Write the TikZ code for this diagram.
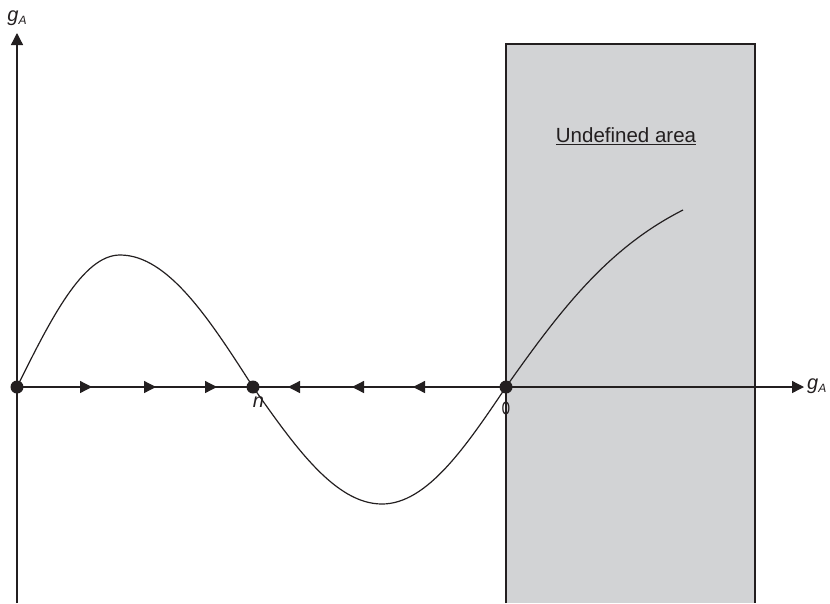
\documentclass[tikz,border=0pt]{standalone}
\usepackage{fontspec}
\setmainfont{Liberation Sans}
\newfontfamily\greekfont{DejaVu Sans}
\usepackage{xcolor}
\usetikzlibrary{arrows.meta,positioning,calc}

\definecolor{undefgray}{RGB}{210,211,213}
\definecolor{inkdark}{RGB}{35,31,32}

\tikzset{
	axisline/.style={line width=1.3pt,draw=inkdark},
	fixpt/.style={circle,fill=inkdark,inner sep=0pt,minimum size=13pt},
	flowtip/.style={-{Triangle[length=12pt,width=12pt]},line width=1.3pt,draw=inkdark},
	axlabel/.style={font=\fontsize{20}{22}\selectfont\itshape,text=inkdark,inner sep=1pt}
}

\newcommand{\gA}{g\raisebox{-0.3ex}{\fontsize{12}{14}\selectfont A}}

\begin{document}
\begin{tikzpicture}[x=1pt,y=-1pt]
	\useasboundingbox (0,0) rectangle (830,603);
	
	% undefined region
	\fill[undefgray] (506,44) rectangle (755,603);
	\draw[line width=1.5pt,draw=inkdark] (506,603) -- (506,44) -- (755,44) -- (755,603);
	\node[font=\fontsize{20.5}{24}\selectfont,text=inkdark] (undef) at (626,136) {\underline{Undefined area}};
	
	% axes
	\coordinate (origin) at (17,387);
	\coordinate (ytop) at (17,33);
	\coordinate (ybot) at (17,603);
	\coordinate (xend) at (804,387);
	\draw[axisline,-{Triangle[length=12pt,width=12pt]}] (ybot) -- (ytop);
	\draw[axisline,-{Triangle[length=12pt,width=12pt]}] (origin) -- (xend);
	\node[axlabel] (ylab) at (17,18) {\gA};
	\node[axlabel,anchor=west] (xlab) at (806,386) {\gA};
	
	% fixed points
	\coordinate (zero) at (17,387);
	\coordinate (n) at (253,387);
	\coordinate (phi) at (506,387);
	\coordinate (hump) at (120,255);
	\coordinate (dip) at (382,504);
	\coordinate (cend) at (683,210);
	
	% curve (quarter sine pieces)
	\draw[line width=1.2pt,draw=inkdark] (zero)
		.. controls (50.6,319.4) and (82.7,255) .. (hump)
		.. controls (168.1,255) and (209.6,319.4) .. (n)
		.. controls (295.1,446.9) and (335.3,504) .. (dip)
		.. controls (426.9,504) and (465.6,446.9) .. (phi)
		.. controls (561,309) and (608,248) .. (cend);
	
	% flow along the axis
	\foreach \x in {92,156,217}{
		\draw[flowtip] (\x-12,387) -- (\x,387);
	}
	\foreach \x in {288,352,413}{
		\draw[flowtip] (\x+12,387) -- (\x,387);
	}
	
	\node[fixpt] (zerodot) at (zero) {};
	\node[fixpt] (ndot) at (n) {};
	\node[fixpt] (phidot) at (phi) {};
	\node[axlabel,below right=4pt and -6pt of ndot] (nlab) {n};
	\node[font=\fontsize{22}{24}\selectfont\greekfont,text=inkdark,below=1pt of phidot] (philab) {\scalebox{0.6}[1]{ϕ}};
\end{tikzpicture}
\end{document}
